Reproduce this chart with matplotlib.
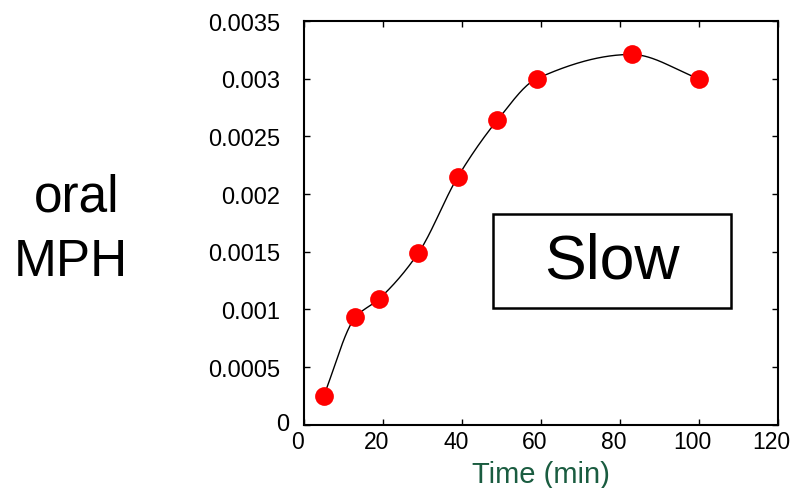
import matplotlib
matplotlib.use('Agg')
import matplotlib.pyplot as plt
import matplotlib.patches as mpatches
from matplotlib.transforms import ScaledTranslation
import numpy as np

plt.rcParams['font.family'] = ['Liberation Sans', 'DejaVu Sans']

# data
time_min = [5, 13, 19, 29, 39, 49, 59, 83, 100]
conc = [0.00025, 0.00093, 0.00109, 0.00149, 0.00215, 0.00264, 0.00300, 0.00321, 0.00300]
x_ticks = [0, 20, 40, 60, 80, 100, 120]
y_ticks = [0, 0.0005, 0.001, 0.0015, 0.002, 0.0025, 0.003, 0.0035]
y_labels = ['0', '0.0005', '0.001', '0.0015', '0.002', '0.0025', '0.003', '0.0035']


def pchip(x, y, xs):
    # shape preserving cubic (Fritsch-Carlson) for the smooth line
    x = np.asarray(x, float)
    y = np.asarray(y, float)
    h = np.diff(x)
    d = np.diff(y) / h
    m = np.zeros_like(y)
    for k in range(1, len(x) - 1):
        if d[k - 1] * d[k] > 0:
            w1 = 2 * h[k] + h[k - 1]
            w2 = h[k] + 2 * h[k - 1]
            m[k] = (w1 + w2) / (w1 / d[k - 1] + w2 / d[k])
    m[0] = d[0]
    m[-1] = d[-1]
    idx = np.clip(np.searchsorted(x, xs) - 1, 0, len(x) - 2)
    t = (xs - x[idx]) / h[idx]
    h00 = 2 * t**3 - 3 * t**2 + 1
    h10 = t**3 - 2 * t**2 + t
    h01 = -2 * t**3 + 3 * t**2
    h11 = t**3 - t**2
    return (h00 * y[idx] + h10 * h[idx] * m[idx]
            + h01 * y[idx + 1] + h11 * h[idx] * m[idx + 1])


fig = plt.figure(figsize=(7.9, 4.89), dpi=100)
ax = fig.add_axes([0.3848, 0.1294, 0.5994, 0.8256])

xs = np.linspace(time_min[0], time_min[-1], 300)
ax.plot(xs, pchip(time_min, conc, xs), color='black', lw=1.0, zorder=2)
ax.plot(time_min, conc, 'o', color='#ff0000', markersize=13.5, mec='none', zorder=3)

ax.set_xlim(0, 120)
ax.set_ylim(0, 0.0035)
ax.set_xticks(x_ticks)
ax.set_yticks(y_ticks)
ax.set_yticklabels(y_labels)
ax.tick_params(direction='in', length=4, width=1, top=True, right=True)
ax.tick_params(axis='x', labelsize=16.5, pad=4)
ax.tick_params(axis='y', labelsize=17, pad=17)
for s in ax.spines.values():
    s.set_linewidth(1.5)

# the original's tick labels sit a little off their ticks
for lab in ax.get_xticklabels():
    lab.set_transform(lab.get_transform() + ScaledTranslation(-0.06, 0, fig.dpi_scale_trans))
ylab0 = ax.get_yticklabels()[0]
ylab0.set_transform(ylab0.get_transform() + ScaledTranslation(0.09, 0.03, fig.dpi_scale_trans))

ax.set_xlabel('Time (min)', fontsize=21, color='#1a5c40', labelpad=5)

fig.patches.append(mpatches.Rectangle((0.624, 0.368), 0.3013, 0.1922,
                                      transform=fig.transFigure, fc='white',
                                      ec='black', lw=1.8, zorder=5))
fig.text(0.7747, 0.464, 'Slow', fontsize=45, ha='center', va='center', zorder=6)

fig.text(0.0975, 1 - 212 / 489, 'oral', fontsize=37, ha='center', va='baseline')
fig.text(0.090, 1 - 276 / 489, 'MPH', fontsize=37, ha='center', va='baseline')

fig.savefig('out.png', dpi=100)
